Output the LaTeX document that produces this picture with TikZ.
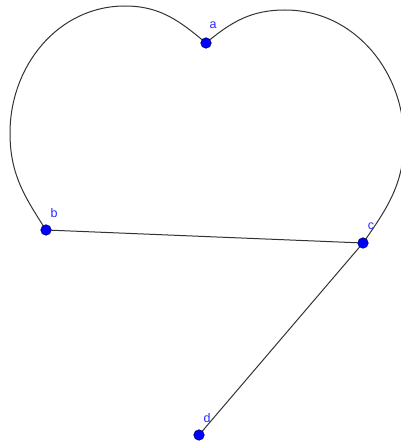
\documentclass[tikz,border=0pt]{standalone}
\usepackage{fontspec}
\setmainfont{Liberation Sans}
\begin{document}
\begin{tikzpicture}[x=1pt,y=1pt,
  pt/.style={circle,fill={rgb,255:red,0;green,0;blue,255},draw={rgb,255:red,0;green,0;blue,110},line width=0.6pt,minimum size=10.5pt,inner sep=0pt},
  lbl/.style={text={rgb,255:red,40;green,40;blue,255},font=\fontsize{12.5}{12.5}\selectfont,inner sep=0pt},
  seg/.style={draw=black!80,line width=1pt}]
\useasboundingbox (0,0) rectangle (401,445);
\coordinate (a) at (206,402);
\coordinate (b) at (46,215);
\coordinate (c) at (363,202);
\coordinate (d) at (199,10);
\coordinate (lt) at (125,439);
\coordinate (ll) at (10,312);
\coordinate (rt) at (285,435);
\coordinate (rr) at (404,305);
\draw[seg] (a) to[out=140,in=0] (lt) to[out=180,in=90] (ll) to[out=-90,in=123] (b);
\draw[seg] (a) to[out=40,in=180] (rt) to[out=0,in=90] (rr) to[out=-90,in=55] (c);
\draw[seg] (b) -- (c);
\draw[seg] (c) -- (d);
\node[pt] (pa) at (a) {};
\node[pt] (pb) at (b) {};
\node[pt] (pc) at (c) {};
\node[pt] (pd) at (d) {};
\node[lbl] (la) at (213,420) {a};
\node[lbl] (lb) at (54,232) {b};
\node[lbl] (lc) at (371,219) {c};
\node[lbl] (ld) at (207,27) {d};
\end{tikzpicture}
\end{document}
